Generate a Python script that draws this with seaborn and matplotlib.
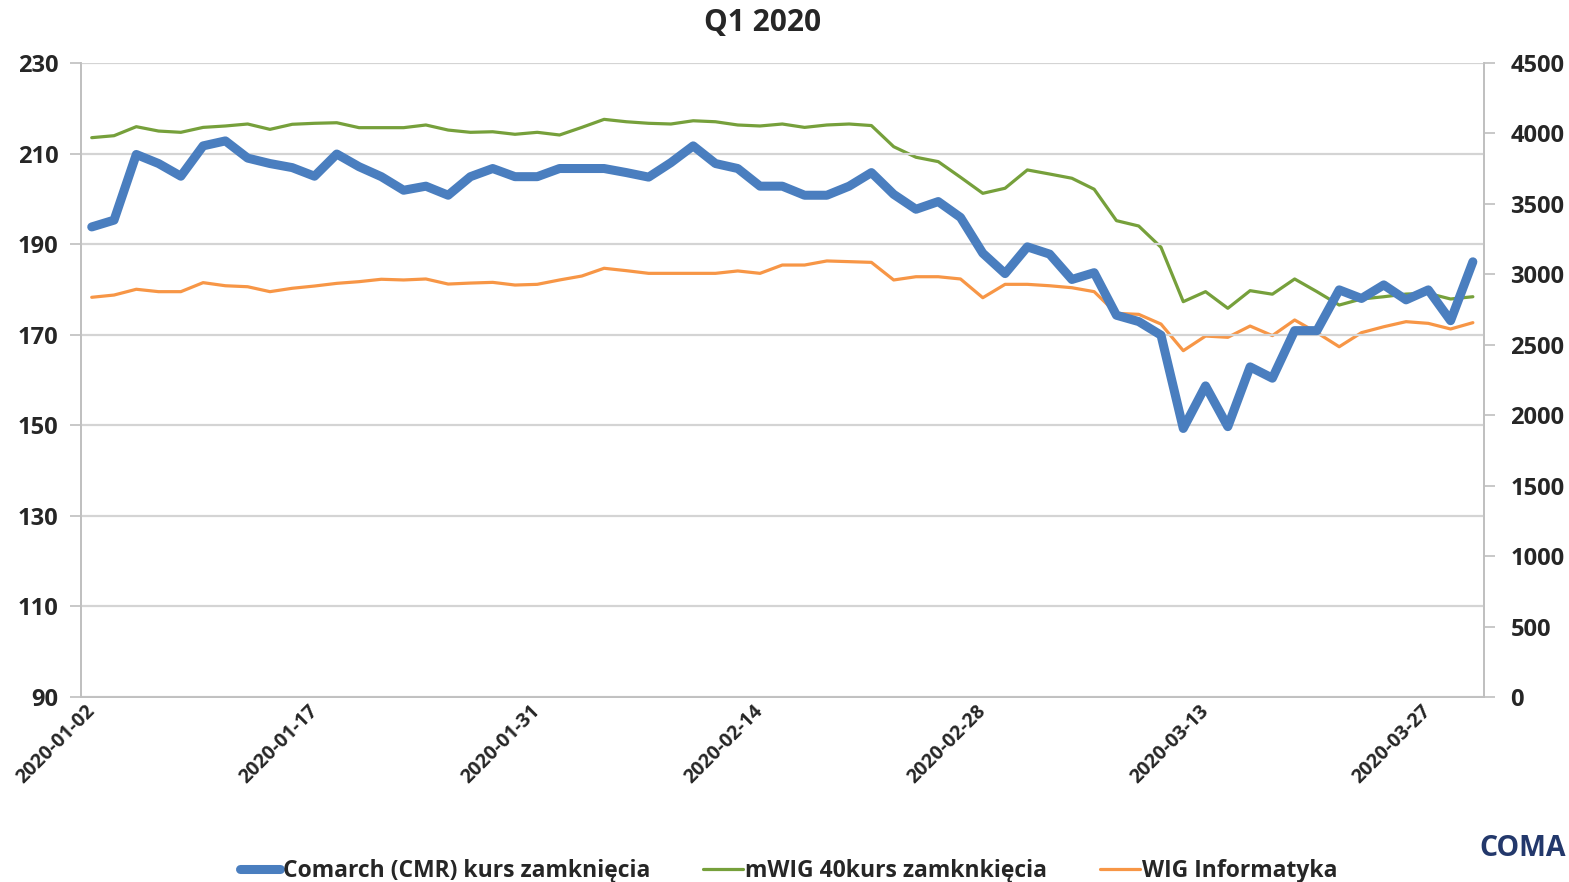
import matplotlib
matplotlib.use("Agg")
import matplotlib.pyplot as plt
import matplotlib.transforms as mtransforms
import seaborn as sns
import numpy as np
import pandas as pd

dates = [
    "2020-01-02", "2020-01-03", "2020-01-07", "2020-01-08", "2020-01-09", "2020-01-10",
    "2020-01-13", "2020-01-14", "2020-01-15", "2020-01-16", "2020-01-17",
    "2020-01-20", "2020-01-21", "2020-01-22", "2020-01-23", "2020-01-24",
    "2020-01-27", "2020-01-28", "2020-01-29", "2020-01-30", "2020-01-31",
    "2020-02-03", "2020-02-04", "2020-02-05", "2020-02-06", "2020-02-07",
    "2020-02-10", "2020-02-11", "2020-02-12", "2020-02-13", "2020-02-14",
    "2020-02-17", "2020-02-18", "2020-02-19", "2020-02-20", "2020-02-21",
    "2020-02-24", "2020-02-25", "2020-02-26", "2020-02-27", "2020-02-28",
    "2020-03-02", "2020-03-03", "2020-03-04", "2020-03-05", "2020-03-06",
    "2020-03-09", "2020-03-10", "2020-03-11", "2020-03-12", "2020-03-13",
    "2020-03-16", "2020-03-17", "2020-03-18", "2020-03-19", "2020-03-20",
    "2020-03-23", "2020-03-24", "2020-03-25", "2020-03-26", "2020-03-27",
    "2020-03-30", "2020-03-31",
]

cmr = [193.8, 195.3, 209.8, 207.8, 205.0, 211.7, 212.8, 209.0, 207.8, 206.9, 205.0,
       209.9, 207.1, 204.9, 201.9, 202.8, 200.8, 204.9, 206.7, 204.9, 204.9,
       206.7, 206.7, 206.7, 205.8, 204.8, 208.0, 211.7, 207.8, 206.7, 202.8,
       202.8, 200.8, 200.8, 202.8, 205.8, 201.0, 197.7, 199.4, 195.9, 188.0,
       183.5, 189.4, 187.8, 182.2, 183.7, 174.3, 172.9, 169.9, 149.3, 158.7,
       149.7, 162.9, 160.4, 170.9, 170.9, 179.9, 178.0, 181.0, 177.7, 179.9,
       173.1, 186.1]

mwig40 = [3970, 3984, 4048, 4017, 4008, 4043, 4053, 4067, 4029, 4065, 4072,
          4076, 4041, 4041, 4041, 4060, 4024, 4008, 4012, 3994, 4008,
          3989, 4043, 4100, 4083, 4072, 4067, 4090, 4083, 4060, 4053,
          4067, 4043, 4060, 4067, 4056, 3906, 3831, 3800, 3689, 3575,
          3611, 3741, 3712, 3682, 3604, 3381, 3343, 3192, 2806, 2877,
          2759, 2884, 2859, 2967, 2877, 2782, 2825, 2841, 2860, 2865,
          2825, 2841]

wig_info = [2837, 2853, 2894, 2877, 2877, 2941, 2919, 2912, 2877, 2901, 2917,
            2936, 2948, 2965, 2960, 2967, 2931, 2938, 2943, 2924, 2929,
            2960, 2988, 3043, 3026, 3007, 3007, 3007, 3007, 3024, 3007,
            3066, 3066, 3095, 3090, 3085, 2960, 2983, 2983, 2967, 2834,
            2929, 2929, 2919, 2905, 2877, 2723, 2716, 2647, 2458, 2562,
            2553, 2633, 2565, 2676, 2586, 2486, 2586, 2628, 2664, 2652,
            2612, 2657]

series_names = ["Comarch (CMR) kurs zamknięcia", "mWIG 40kurs zamknkięcia", "WIG Informatyka"]
title = "Q1 2020"
logo_text = "COMA"
left_ticks = [90, 110, 130, 150, 170, 190, 210, 230]
right_ticks = [0, 500, 1000, 1500, 2000, 2500, 3000, 3500, 4000, 4500]

df = pd.DataFrame({"idx": np.arange(len(dates)), "date": dates,
                   "cmr": cmr, "mwig": mwig40, "wig": wig_info})

sns.set_style("white")
plt.rcParams["font.family"] = ["Open Sans", "DejaVu Sans"]

BLUE = "#4A7EBF"
GREEN = "#76A03B"
ORANGE = "#F79646"
GRID = "#D4D4D4"
AXC = "#BFBFBF"

fig = plt.figure(figsize=(15.69, 8.82), dpi=100)
ax = fig.add_axes([80.6 / 1569, 1 - 697 / 882, (1484 - 80.6) / 1569, (697 - 63) / 882])
ax2 = ax.twinx()

ax2.set_zorder(1)
ax.set_zorder(2)
ax.patch.set_visible(False)

sns.lineplot(data=df, x="idx", y="mwig", ax=ax2, color=GREEN, linewidth=2.3, label=series_names[1], legend=False)
sns.lineplot(data=df, x="idx", y="wig", ax=ax2, color=ORANGE, linewidth=2.3, label=series_names[2], legend=False)
sns.lineplot(data=df, x="idx", y="cmr", ax=ax, color=BLUE, linewidth=6.5, label=series_names[0], legend=False,
             solid_capstyle="round", solid_joinstyle="round")

n = len(dates)
ax.set_xlim(-0.5, n - 0.5)
ax.set_ylim(90, 230)
ax2.set_ylim(0, 4500)

ax.set_yticks(left_ticks)
ax.set_yticklabels([str(t) for t in left_ticks], fontsize=17, fontweight="bold")
ax2.set_yticks(right_ticks)
ax2.set_yticklabels([str(t) for t in right_ticks], fontsize=17, fontweight="bold")

label_pos = list(range(0, n, 10))
ax.set_xticks(label_pos)
ax.set_xticklabels([dates[i] for i in label_pos], rotation=45, ha="right", va="center",
                   rotation_mode="anchor", fontsize=14, fontweight="bold")
offset = mtransforms.ScaledTranslation(3 / 100, 0, fig.dpi_scale_trans)
for lab in ax.get_xticklabels():
    lab.set_transform(lab.get_transform() + offset)
ax.set_xticks(np.arange(-0.5, n, 5), minor=True)
ax.tick_params(axis="x", which="major", length=0, pad=8)
ax.tick_params(axis="x", which="minor", length=6, color=AXC, width=1.2, direction="out")
ax.tick_params(axis="y", length=8, color=AXC, width=1.2, pad=8)
ax2.tick_params(axis="y", length=8, color=AXC, width=1.2, pad=11)

ax.grid(axis="y", color=GRID, linewidth=1.6)
ax.grid(axis="x", visible=False)
ax2.grid(False)
ax.set_xlabel("")
ax.set_ylabel("")
ax2.set_ylabel("")

for a in (ax, ax2):
    a.spines["top"].set_visible(False)
    for s in ("left", "right", "bottom"):
        a.spines[s].set_color(AXC)
        a.spines[s].set_linewidth(1.2)

fig.text(763 / 1569, 1 - 23 / 882, title, ha="center", va="center", fontsize=21.5, fontweight="bold")

h1, l1 = ax.get_legend_handles_labels()
h2, l2 = ax2.get_legend_handles_labels()
leg = fig.legend(h1 + h2, l1 + l2, loc="center", bbox_to_anchor=(789 / 1569, 1 - 871 / 882), ncol=3,
                 frameon=False, prop={"size": 16.5, "weight": "bold"}, handlelength=1.75, handletextpad=0.1,
                 columnspacing=2.3)

fig.text(1566 / 1569, 1 - 849 / 882, logo_text, ha="right", va="center", fontsize=20.5, fontweight="bold",
         color="#23386B")

fig.savefig("out.png", dpi=100)
